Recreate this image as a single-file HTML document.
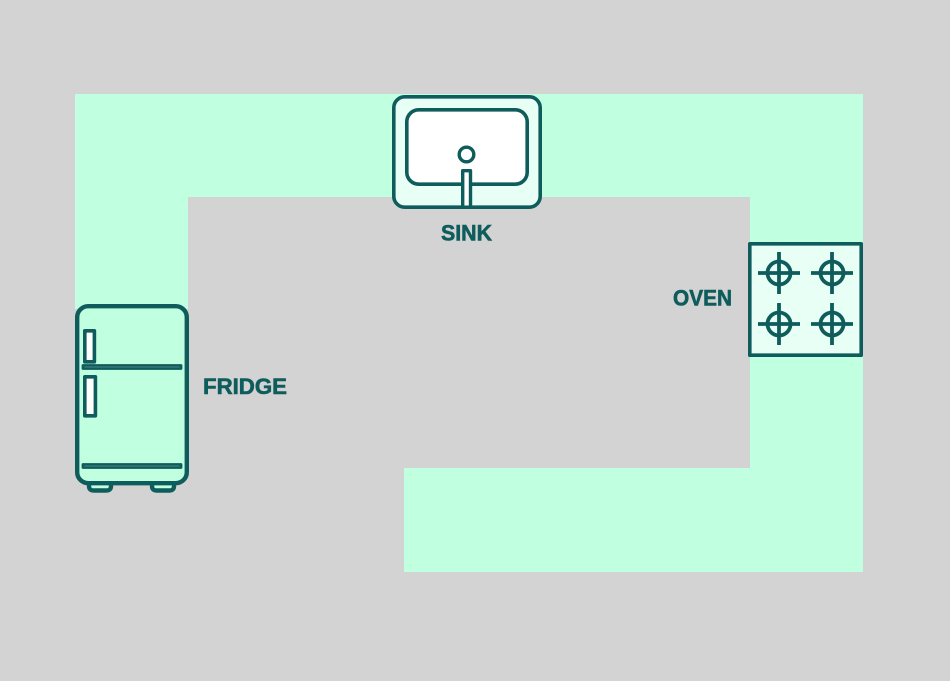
<!DOCTYPE html>
<html>
<head>
<meta charset="utf-8">
<style>
  html, body { margin: 0; padding: 0; background: #d3d3d3; }
  svg { display: block; }
  text { font-family: "Liberation Sans", sans-serif; font-weight: bold; fill: #0f5c5c; stroke: #0f5c5c; stroke-width: 0.6; font-size: 22px; }
</style>
</head>
<body>
<svg width="950" height="681" viewBox="0 0 950 681" xmlns="http://www.w3.org/2000/svg">
  <rect x="0" y="0" width="950" height="681" fill="#d3d3d3"/>
  <!-- counters -->
  <g fill="#c0ffe0">
    <rect x="75" y="94" width="788" height="103"/>
    <rect x="75" y="94" width="113" height="215"/>
    <rect x="750" y="94" width="113" height="478"/>
    <rect x="404" y="468" width="459" height="104"/>
  </g>

  <g stroke="#0f5c5c" stroke-linejoin="round">
    <!-- Sink -->
    <rect x="393.8" y="96.8" width="146.4" height="110.4" rx="11" fill="#e8fff5" stroke-width="3.6"/>
    <rect x="406.8" y="109.8" width="120.4" height="74.4" rx="12" fill="#ffffff" stroke-width="3.6"/>
    <circle cx="466.5" cy="154.5" r="7.3" fill="#ffffff" stroke-width="3.4"/>
    <rect x="462.7" y="170.7" width="7.8" height="36.5" fill="#ffffff" stroke-width="3.4"/>

    <!-- Oven -->
    <rect x="749.8" y="243.8" width="111.4" height="111.4" fill="#e8fff5" stroke-width="3.6"/>
    <g fill="none" stroke-width="3.8">
      <circle cx="779" cy="273" r="11.5"/>
      <line x1="758" y1="273" x2="800" y2="273"/>
      <line x1="779" y1="252" x2="779" y2="294"/>
      <circle cx="832" cy="273" r="11.5"/>
      <line x1="811" y1="273" x2="853" y2="273"/>
      <line x1="832" y1="252" x2="832" y2="294"/>
      <circle cx="779" cy="324" r="11.5"/>
      <line x1="758" y1="324" x2="800" y2="324"/>
      <line x1="779" y1="303" x2="779" y2="345"/>
      <circle cx="832" cy="324" r="11.5"/>
      <line x1="811" y1="324" x2="853" y2="324"/>
      <line x1="832" y1="303" x2="832" y2="345"/>
    </g>

    <!-- Fridge -->
    <path d="M89 482 L89 486 Q89 490.5 93.5 490.5 L106.5 490.5 Q111 490.5 111 486 L111 482" fill="#c0ffe0" stroke-width="4.4"/>
    <path d="M152 482 L152 486 Q152 490.5 156.5 490.5 L169.5 490.5 Q174 490.5 174 486 L174 482" fill="#c0ffe0" stroke-width="4.4"/>
    <rect x="77.2" y="306.2" width="109.6" height="177" rx="11" fill="#c0ffe0" stroke-width="4.4"/>
    <!-- handles -->
    <rect x="84.8" y="330.8" width="9.6" height="31" fill="#ffffff" stroke-width="3.6"/>
    <rect x="84.8" y="376.8" width="10.6" height="39" fill="#ffffff" stroke-width="3.6"/>
    <!-- shelves -->
    <rect x="83" y="365.5" width="98" height="3" fill="#ffffff" stroke-width="2.8"/>
    <rect x="83" y="464.5" width="98" height="3" fill="#ffffff" stroke-width="2.8"/>
  </g>

  <!-- labels -->
  <text x="441" y="240.5" textLength="51" lengthAdjust="spacingAndGlyphs">SINK</text>
  <text x="673" y="305.5" textLength="59" lengthAdjust="spacingAndGlyphs">OVEN</text>
  <text x="203" y="394" textLength="84" lengthAdjust="spacingAndGlyphs">FRIDGE</text>
</svg>
</body>
</html>
